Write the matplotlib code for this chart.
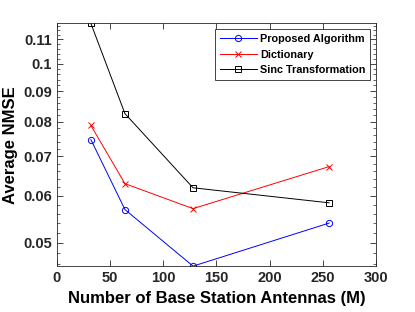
import numpy as np
import matplotlib.pyplot as plt
from matplotlib.ticker import FixedLocator, NullFormatter

plt.rcParams['font.family'] = 'Liberation Sans'
plt.rcParams['font.weight'] = 'bold'

antennas = [32, 64, 128, 256]
proposed = [0.0746, 0.0569, 0.0457, 0.0540]
dictionary = [0.0788, 0.0629, 0.0571, 0.0672]
sinc = [0.1170, 0.0825, 0.0619, 0.0584]

yticks = [0.05, 0.06, 0.07, 0.08, 0.09, 0.1, 0.11]
ytick_labels = ['0.05', '0.06', '0.07', '0.08', '0.09', '0.1', '0.11']

fig = plt.figure(figsize=(4.15, 3.12), dpi=100)
ax = fig.add_axes([0.137, 0.147, 0.769, 0.778])

ax.plot(antennas, proposed, color='blue', marker='o', markersize=4.5, markerfacecolor='none',
        markeredgewidth=0.7, linewidth=0.7, label='Proposed Algorithm')
ax.plot(antennas, dictionary, color='red', marker='x', markersize=4,
        markeredgewidth=0.7, linewidth=0.7, label='Dictionary')
ax.plot(antennas, sinc, color='black', marker='s', markersize=4, markerfacecolor='none',
        markeredgewidth=0.7, linewidth=0.7, label='Sinc Transformation')

ax.set_yscale('log')
ax.set_xlim(0, 300)
ax.set_ylim(min(proposed), max(sinc))
ax.set_xticks([0, 50, 100, 150, 200, 250, 300])
ax.yaxis.set_major_locator(FixedLocator(yticks))
ax.set_yticklabels(ytick_labels)
ax.yaxis.set_minor_locator(FixedLocator(np.arange(0.046, 0.117, 0.002)))
ax.yaxis.set_minor_formatter(NullFormatter())

ax.tick_params(which='both', direction='in', top=True, right=True, labelsize=10.5, colors='#262626')
ax.tick_params(which='major', length=4, width=0.6)
ax.tick_params(which='minor', length=2, width=0.5)
for s in ax.spines.values():
    s.set_color('#262626')
    s.set_linewidth(0.6)

ax.set_xlabel('Number of Base Station Antennas (M)', fontsize=12, fontweight='bold')
ax.set_ylabel('Average NMSE', fontsize=12, fontweight='bold')

leg = ax.legend(loc='upper right', fontsize=7.8, fancybox=False, framealpha=1,
                edgecolor='#262626', borderpad=0.45, labelspacing=0.5,
                handlelength=3.4, handletextpad=0.3, borderaxespad=0.55)
leg.get_frame().set_linewidth(0.6)

fig.savefig('out.png', dpi=100)
